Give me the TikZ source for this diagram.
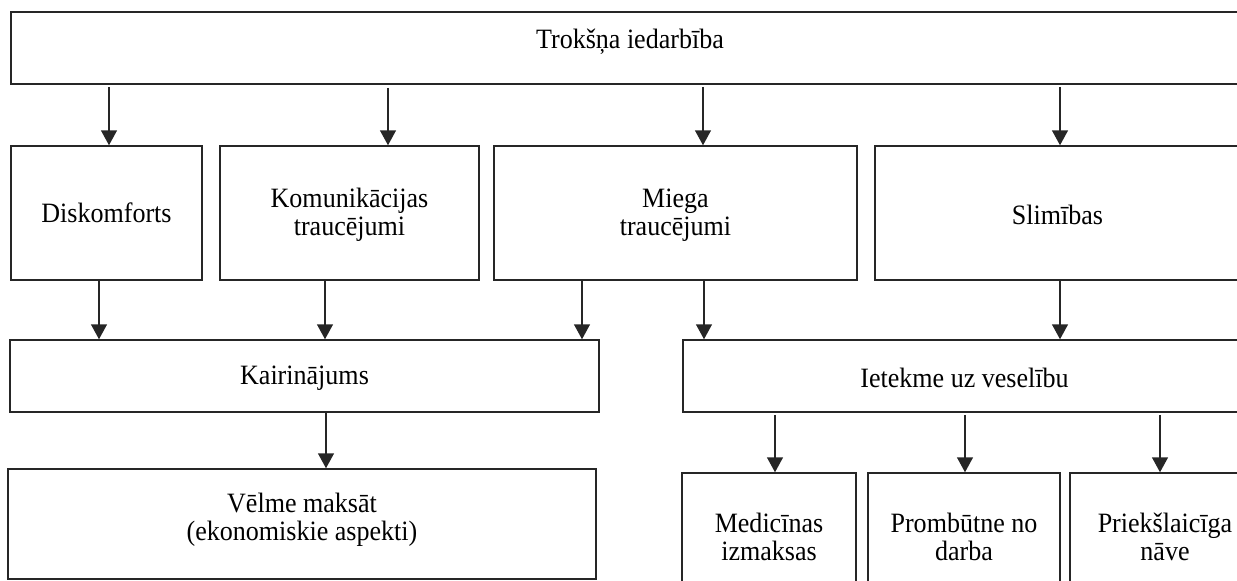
\documentclass[tikz,border=0pt]{standalone}
\usepackage{fontspec}
\setmainfont{Liberation Serif}[FakeStretch=0.93]
\usetikzlibrary{arrows.meta,fit}
\begin{document}
\begin{tikzpicture}[x=0.5pt,y=-0.5pt,
  boxst/.style={draw=black!85, line width=0.75pt, inner sep=0pt},
  lbl/.style={inner sep=0pt, align=center, font=\fontsize{14}{13.8}\selectfont},
  arr/.style={draw=black!85, line width=0.75pt,
    -{Triangle[length=7.5pt,width=8pt]}}]
\useasboundingbox (0,0) rectangle (1237,580);
\clip (0,0) rectangle (1237,580);

% boxes
\node[boxst, fit={(11,12)(1250,84)}] (top) {};
\node[boxst, fit={(11,146)(202,280)}] (dis) {};
\node[boxst, fit={(220,146)(479,280)}] (kom) {};
\node[boxst, fit={(494,146)(857,280)}] (mie) {};
\node[boxst, fit={(875,146)(1240,280)}] (sli) {};
\node[boxst, fit={(10,340)(599,412)}] (kai) {};
\node[boxst, fit={(683,340)(1246,412)}] (iet) {};
\node[boxst, fit={(8,469)(596,579)}] (vel) {};
\node[boxst, fit={(682,473)(856,597)}] (med) {};
\node[boxst, fit={(868,473)(1060,597)}] (pro) {};
\node[boxst, fit={(1070,473)(1260,597)}] (pri) {};

% box texts
\node[lbl, anchor=base] (topT) at (630,48) {Trokšņa iedarbība};
\node[lbl] (disT) at (dis.center) {Diskomforts};
\node[lbl] (komT) at ([yshift=-1pt]kom.center) {Komunikācijas\\traucējumi};
\node[lbl] (mieT) at ([yshift=-1pt]mie.center) {Miega\\traucējumi};
\node[lbl] (sliT) at ([yshift=-1pt]sli.center) {Slimības};
\node[lbl] (kaiT) at ([yshift=-1pt]kai.center) {Kairinājums};
\node[lbl] (ietT) at ([yshift=-1pt]iet.center) {Ietekme uz veselību};
\node[lbl] (velT) at ([yshift=2pt]vel.center) {Vēlme maksāt\\(ekonomiskie aspekti)};
\node[lbl] (medT) at ([yshift=-1pt]med.center) {Medicīnas\\izmaksas};
\node[lbl] (proT) at ([yshift=-1pt]pro.center) {Prombūtne no\\darba};
\node[lbl] (priT) at ([yshift=-1pt]pri.center) {Priekšlaicīga\\nāve};

% horizontal positions of the connectors
\coordinate (c1) at (109,0);
\coordinate (c2) at (388,0);
\coordinate (c3) at (703,0);
\coordinate (c4) at (1060,0);
\coordinate (d1) at (99,0);
\coordinate (d2) at (325,0);
\coordinate (d3) at (582,0);
\coordinate (d4) at (704,0);
\coordinate (d5) at (1060,0);
\coordinate (e1) at (326,0);
\coordinate (e2) at (775,0);
\coordinate (e3) at (965,0);
\coordinate (e4) at (1160,0);

\draw[arr] ([yshift=-1pt]top.south -| c1) -- (dis.north -| c1);
\draw[arr] ([yshift=-1.5pt]top.south -| c2) -- (kom.north -| c2);
\draw[arr] ([yshift=-1pt]top.south -| c3) -- (mie.north -| c3);
\draw[arr] ([yshift=-1pt]top.south -| c4) -- (sli.north -| c4);

\draw[arr] (dis.south -| d1) -- (kai.north -| d1);
\draw[arr] (kom.south -| d2) -- (kai.north -| d2);
\draw[arr] (mie.south -| d3) -- (kai.north -| d3);
\draw[arr] (mie.south -| d4) -- (iet.north -| d4);
\draw[arr] (sli.south -| d5) -- (iet.north -| d5);

\draw[arr] (kai.south -| e1) -- (vel.north -| e1);
\draw[arr] ([yshift=-1pt]iet.south -| e2) -- (med.north -| e2);
\draw[arr] ([yshift=-1pt]iet.south -| e3) -- (pro.north -| e3);
\draw[arr] ([yshift=-1pt]iet.south -| e4) -- (pri.north -| e4);
\end{tikzpicture}
\end{document}
